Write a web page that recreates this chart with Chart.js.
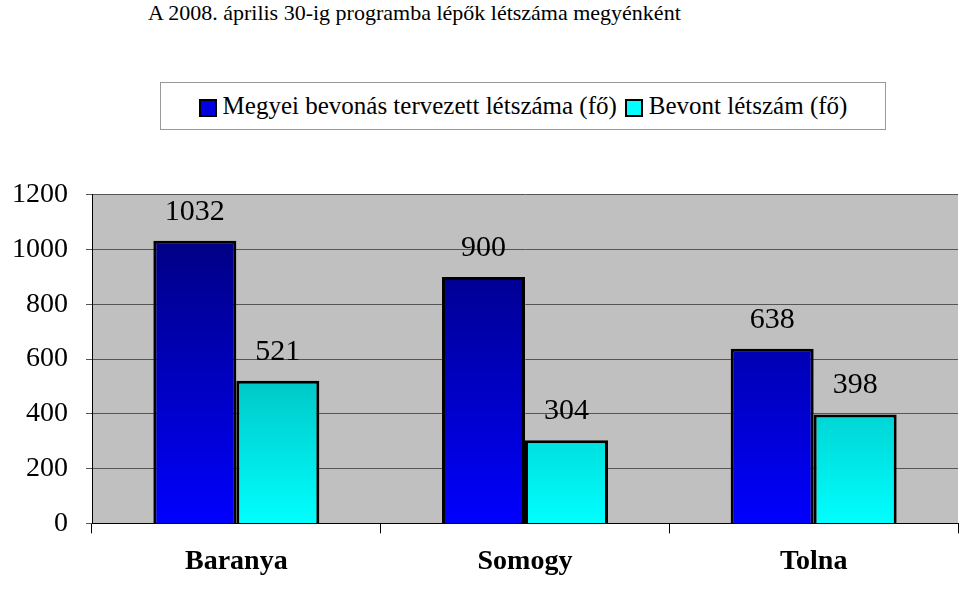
<!DOCTYPE html>
<html><head><meta charset="utf-8">
<script src="https://cdn.jsdelivr.net/npm/chart.js@4"></script>
<style>
body{margin:0;background:#fff;font-family:"Liberation Serif","Times New Roman",serif;width:960px;height:591px;position:relative;overflow:hidden}
#title{position:absolute;left:148px;top:0px;font-size:22px}
#legend{position:absolute;left:160px;top:82px;width:724px;height:46px;border:1px solid #999;font-family:"Liberation Serif","Times New Roman",serif;font-size:25px;display:flex;align-items:center;justify-content:center;gap:8px}
.sw{display:inline-block;width:14px;height:14px;border:2px solid #000;margin-right:6px;vertical-align:middle}
#wrap{position:absolute;left:0;top:160px;width:960px;height:431px}
</style></head><body>
<div id="title">A 2008. április 30-ig programba lépők létszáma megyénként</div>
<div id="legend"><span><span class="sw" style="background:#0000e0"></span>Megyei bevonás tervezett létszáma (fő)</span><span><span class="sw" style="background:#00ffff"></span>Bevont létszám (fő)</span></div>
<div id="wrap"><canvas id="c"></canvas></div>
<script>
const categories = ["Baranya", "Somogy", "Tolna"];
const planned = [1032, 900, 638];
const enrolled = [521, 304, 398];
const seriesNames = ["Megyei bevonás tervezett létszáma (fő)", "Bevont létszám (fő)"];
const FONT = "Liberation Serif, Times New Roman, serif";

function grad(ctx, top, bottom) {
  const area = ctx.chart.chartArea;
  if (!area) return bottom;
  const g = ctx.chart.ctx.createLinearGradient(0, area.top, 0, area.bottom);
  g.addColorStop(0, top);
  g.addColorStop(1, bottom);
  return g;
}

const bgPlugin = {
  id: "bg",
  beforeDraw(chart) {
    const a = chart.chartArea, c = chart.ctx;
    c.save(); c.fillStyle = "#c0c0c0";
    c.fillRect(a.left, a.top, a.right - a.left, a.bottom - a.top);
    c.restore();
  }
};

const labelPlugin = {
  id: "labels",
  afterDatasetsDraw(chart) {
    const c = chart.ctx;
    c.save();
    c.font = "30px " + FONT;
    c.fillStyle = "#000";
    c.textAlign = "center";
    c.textBaseline = "bottom";
    chart.data.datasets.forEach((ds, i) => {
      chart.getDatasetMeta(i).data.forEach((bar, j) => {
        c.fillText(ds.data[j], bar.x, bar.y - 14);
      });
    });
    c.restore();
  }
};

new Chart(document.getElementById("c"), {
  type: "bar",
  data: {
    labels: categories,
    datasets: [
      { label: seriesNames[0], data: planned, backgroundColor: ctx => grad(ctx, "#000070", "#0000ff"),
        borderColor: "#000", borderWidth: 3 },
      { label: seriesNames[1], data: enrolled, backgroundColor: ctx => grad(ctx, "#008080", "#00ffff"),
        borderColor: "#000", borderWidth: 3 }
    ]
  },
  options: {
    responsive: true,
    maintainAspectRatio: false,
    animation: false,
    layout: { padding: { top: 14, right: 2, left: 0 } },
    datasets: { bar: { categoryPercentage: 0.575, barPercentage: 1 } },
    plugins: { legend: { display: false }, tooltip: { enabled: false } },
    scales: {
      x: {
        grid: { display: true, drawOnChartArea: false, color: "#000", tickLength: 10, offset: true },
        border: { color: "#000" },
        ticks: { color: "#000", font: { family: FONT, size: 28, weight: "bold" }, padding: 12 }
      },
      y: {
        min: 0, max: 1200,
        afterFit: s => { s.width = 92; },
        grid: { color: "#555", tickLength: 6 },
        border: { color: "#000" },
        ticks: { stepSize: 200, color: "#000", font: { family: FONT, size: 28 }, padding: 18,
          callback: v => String(v) }
      }
    }
  },
  plugins: [bgPlugin, labelPlugin]
});
</script>
</body></html>
